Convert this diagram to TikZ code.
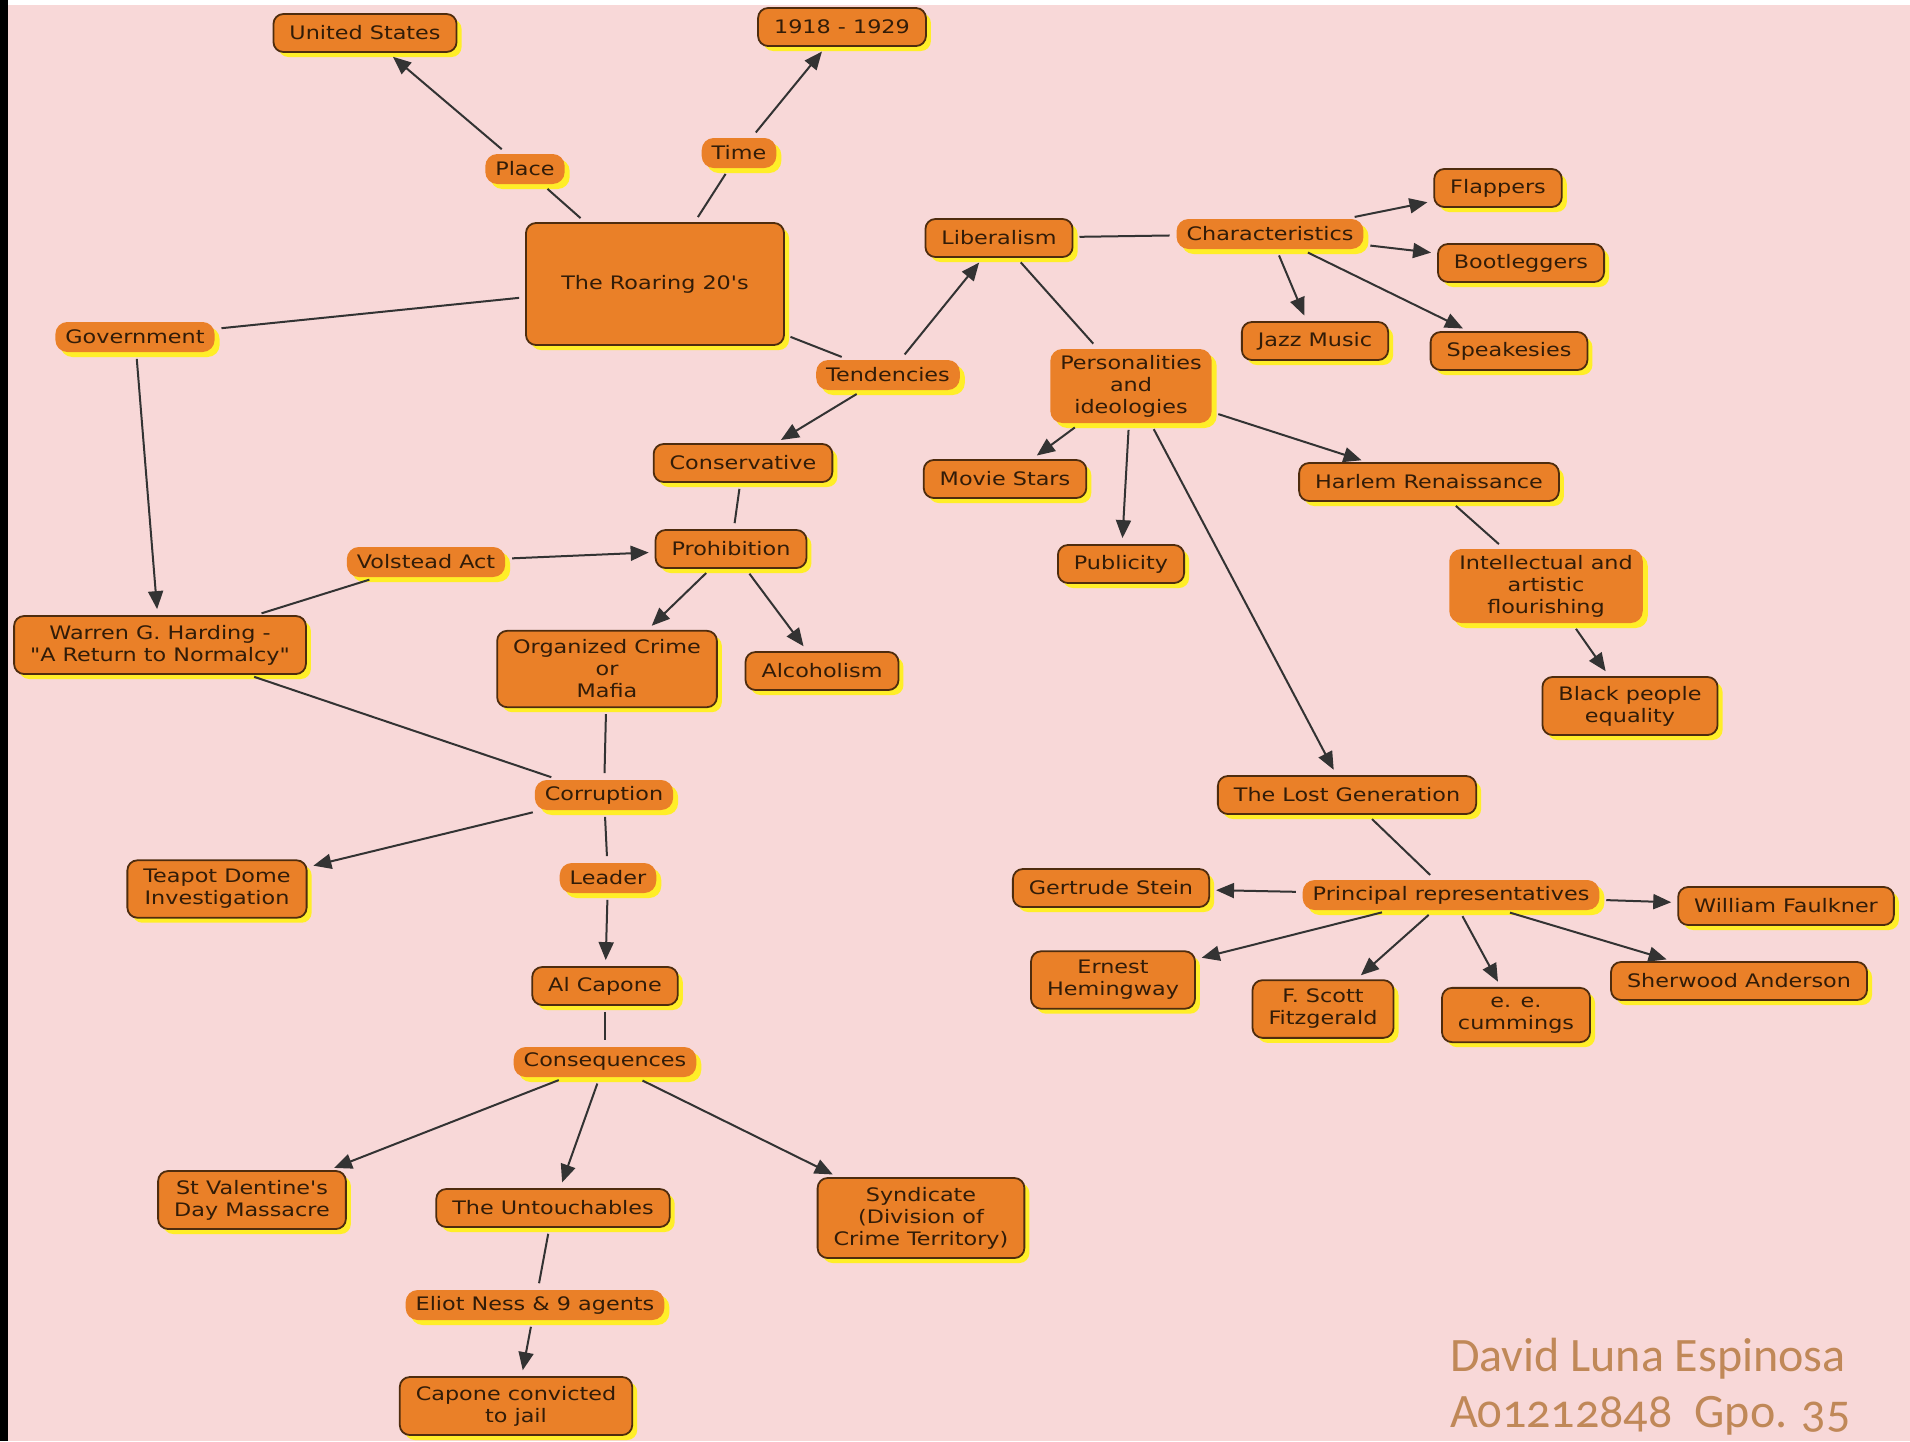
\documentclass[tikz,border=0pt]{standalone}
\usepackage{fontspec}
\setmainfont[FakeStretch=1.2, Ligatures=TeXOff]{DejaVu Sans}
\newfontfamily\signfont[Numbers=OldStyle]{Carlito}
\usetikzlibrary{arrows.meta,shadows}
\definecolor{bg}{RGB}{248,216,216}
\definecolor{cfill}{RGB}{234,128,40}
\definecolor{cline}{RGB}{78,44,14}
\definecolor{cshadow}{RGB}{255,238,40}
\definecolor{ctext}{RGB}{50,28,8}
\definecolor{sign}{RGB}{192,136,88}
\begin{document}
\begin{tikzpicture}[x=0.5pt, y=-0.5pt,
		concept/.style={draw=cline, line width=0.9pt, fill=cfill, rounded corners=5pt, text=ctext, align=center,
			inner xsep=8pt, inner ysep=4.5pt, minimum height=19pt, font=\fontsize{9.3}{11}\selectfont,
			drop shadow={fill=cshadow, opacity=1, shadow xshift=2.5pt, shadow yshift=-2.5pt}},
		phrase/.style={concept, draw=none, rounded corners=6pt, inner xsep=5pt, inner ysep=3pt, minimum height=15pt},
		conn/.style={draw=black!80, line width=1pt, shorten <=3pt, shorten >=3pt},
		arr/.style={conn, -{Triangle[length=9pt,width=7.5pt]}}]
	\useasboundingbox (0,0) rectangle (1910,1441);
	\fill[bg] (0,0) rectangle (1910,1441);
	\fill[black] (0,0) rectangle (8,1441);
	\fill[white] (8,0) rectangle (1910,5);

	\node[concept] (us) at (365,33) {United States};
	\node[concept] (years) at (842,27) {1918 - 1929};
	\node[phrase] (place) at (525,169) {Place};
	\node[phrase] (time) at (739,153) {Time};
	\node[concept, minimum width=129pt, minimum height=61pt] (roar) at (655,284) {The Roaring 20's};
	\node[phrase] (gov) at (135,337) {Government};
	\node[phrase] (tend) at (888,375) {Tendencies};
	\node[concept] (lib) at (999,238) {Liberalism};
	\node[phrase] (char) at (1270,234) {Characteristics};
	\node[concept] (flap) at (1498,188) {Flappers};
	\node[concept] (boot) at (1521,263) {Bootleggers};
	\node[concept] (jazz) at (1315,341) {Jazz Music};
	\node[concept] (speak) at (1509,351) {Speakesies};
	\node[phrase] (pers) at (1131,386) {Personalities\\and\\ideologies};
	\node[concept] (movie) at (1005,479) {Movie Stars};
	\node[concept] (pub) at (1121,564) {Publicity};
	\node[concept] (harlem) at (1429,482) {Harlem Renaissance};
	\node[phrase] (intel) at (1546,586) {Intellectual and\\artistic\\flourishing};
	\node[concept] (black) at (1630,706) {Black people\\equality};
	\node[concept] (cons) at (743,463) {Conservative};
	\node[concept] (prohib) at (731,549) {Prohibition};
	\node[phrase] (volstead) at (426,562) {Volstead Act};
	\node[concept] (harding) at (160,645) {Warren G. Harding -\\"A Return to Normalcy"};
	\node[concept] (crime) at (607,669) {Organized Crime\\or\\Mafia};
	\node[concept] (alco) at (822,671) {Alcoholism};
	\node[phrase] (corrupt) at (604,795) {Corruption};
	\node[concept] (teapot) at (217,889) {Teapot Dome\\Investigation};
	\node[phrase] (leader) at (608,878) {Leader};
	\node[concept] (capone) at (605,986) {Al Capone};
	\node[phrase] (conseq) at (605,1062) {Consequences};
	\node[concept] (valentine) at (252,1200) {St Valentine's\\Day Massacre};
	\node[concept] (untouch) at (553,1208) {The Untouchables};
	\node[concept] (synd) at (921,1218) {Syndicate\\(Division of\\Crime Territory)};
	\node[phrase] (ness) at (535,1305) {Eliot Ness \& 9 agents};
	\node[concept] (jail) at (516,1406) {Capone convicted\\to jail};
	\node[concept] (lost) at (1347,795) {The Lost Generation};
	\node[phrase] (princ) at (1451,895) {Principal representatives};
	\node[concept] (stein) at (1111,888) {Gertrude Stein};
	\node[concept] (faulk) at (1786,906) {William Faulkner};
	\node[concept] (hem) at (1113,980) {Ernest\\Hemingway};
	\node[concept] (fitz) at (1323,1009) {F. Scott\\Fitzgerald};
	\node[concept] (cumm) at (1516,1015) {e. e.\\cummings};
	\node[concept] (sher) at (1739,981) {Sherwood Anderson};

	\node[text=sign, font=\signfont\fontsize{24}{28}\selectfont, anchor=base west] (name) at (1443,1371) {David Luna Espinosa};
	\node[text=sign, font=\signfont\fontsize{24}{28}\selectfont, anchor=base west] (id) at (1443,1427) {A01212848\hspace{11pt}Gpo. 35};

	\draw[conn] (roar) -- (place);
	\draw[arr] (place) -- (us);
	\draw[conn] (roar) -- (time);
	\draw[arr] (time) -- (years);
	\draw[conn] (roar) -- (gov);
	\draw[arr] (gov) -- (harding);
	\draw[conn] (roar) -- (tend);
	\draw[arr] (tend) -- (lib);
	\draw[arr] (tend) -- (cons);
	\draw[conn] (lib) -- (char);
	\draw[arr] (char) -- (flap);
	\draw[arr] (char) -- (boot);
	\draw[arr] (char) -- (jazz);
	\draw[arr] (char) -- (speak);
	\draw[conn] (lib) -- (pers);
	\draw[arr] (pers) -- (movie);
	\draw[arr] (pers) -- (pub);
	\draw[arr] (pers) -- (harlem);
	\draw[arr] (pers) -- (lost);
	\draw[conn] (harlem) -- (intel);
	\draw[arr] (intel) -- (black);
	\draw[conn] (cons) -- (prohib);
	\draw[conn] (harding) -- (volstead);
	\draw[arr] (volstead) -- (prohib);
	\draw[arr] (prohib) -- (crime);
	\draw[arr] (prohib) -- (alco);
	\draw[conn] (harding) -- (corrupt);
	\draw[conn] (crime) -- (corrupt);
	\draw[arr] (corrupt) -- (teapot);
	\draw[conn] (corrupt) -- (leader);
	\draw[arr] (leader) -- (capone);
	\draw[conn] (capone) -- (conseq);
	\draw[arr] (conseq) -- (valentine);
	\draw[arr] (conseq) -- (untouch);
	\draw[arr] (conseq) -- (synd);
	\draw[conn] (untouch) -- (ness);
	\draw[arr] (ness) -- (jail);
	\draw[conn] (lost) -- (princ);
	\draw[arr] (princ) -- (stein);
	\draw[arr] (princ) -- (faulk);
	\draw[arr] (princ) -- (hem);
	\draw[arr] (princ) -- (fitz);
	\draw[arr] (princ) -- (cumm);
	\draw[arr] (princ) -- (sher);
\end{tikzpicture}
\end{document}
